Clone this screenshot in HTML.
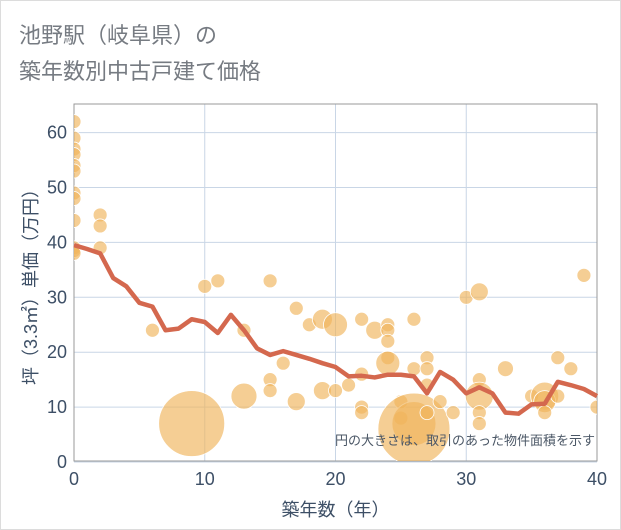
<!DOCTYPE html>
<html><head><meta charset="utf-8"><style>
body{margin:0;background:#fff}
#wrap{position:relative;width:619px;height:528px;border:1px solid #dcdcdc;overflow:hidden;font-family:"Liberation Sans","Noto Sans CJK JP",sans-serif}
</style></head><body>
<div id="wrap">
<svg id="chart" width="619" height="528">
<text x="18" y="42" font-size="22" fill="#767b82" font-family="Liberation Sans, Noto Sans CJK JP, sans-serif">池野駅（岐阜県）の</text>
<text x="18" y="78" font-size="22" fill="#767b82" font-family="Liberation Sans, Noto Sans CJK JP, sans-serif">築年数別中古戸建て価格</text>
</svg>
</div>
<script>
const lineX=[0,1,2,3,4,5,6,7,8,9,10,11,12,13,14,15,16,17,18,19,20,21,22,23,24,25,26,27,28,29,30,31,32,33,34,35,36,37,38,39,40];
const lineY=[39.5,38.8,38,33.5,32,29,28.3,24,24.3,26,25.5,23.5,26.8,24,20.7,19.5,20.2,19.5,18.8,18,17.3,15.6,15.7,15.4,15.9,15.9,15.6,12.5,16.4,15,12.5,13.6,12.5,9,8.8,10.5,10.6,14.6,14,13.3,12];
const bubX=[0,0,0,0,0,0,0,0,0,0,0,0,2,2,2,6,9,10,11,13,13,15,15,15,16,17,17,18,19,19,20,20,21,22,22,22,22,23,24,24,24,24,24,25,25,26,26,26,26,27,27,27,27,28,29,30,31,31,31,31,31,33,35,36,36,36,37,37,38,39,40];
const bubY=[62,59,57,56,54,53,49,48,44,39,38.5,38,45,43,39,24,7,32,33,24,12,33,15,13,18,28,11,25,26,13,25,13,14,26,16,10,9,24,25,24,22,19,18,11,8,26,17,7,6,19,17,14,9,11,9,30,31,15,12,9,7,17,12,12,11,9,19,12,17,34,10];
const bubR=[7,7,7,7,7,7,7,7,7,7,7,7,7,7,7,7,33,7,7,7,13,7,7,7,7,7,9,7,10,9,12,7,7,7,7,7,7,9,7,7,7,7,12,7,7,7,7,22,36,7,7,7,7,7,7,7,9,7,14,7,7,8,7,14,11,7,7,7,7,7,7];
const xTicks=[0,10,20,30,40];
const yTicks=[0,10,20,30,40,50,60];
const NS='http://www.w3.org/2000/svg';
const svg=document.getElementById('chart');
const L=73,R=596,T=103,B=460;
const sx=v=>L+(R-L)*v/40;
const sy=v=>461-v*5.49;
function el(t,a){const e=document.createElementNS(NS,t);for(const k in a)e.setAttribute(k,a[k]);svg.appendChild(e);return e;}
const clip=el('clipPath',{id:'pc'});
const cr=document.createElementNS(NS,'rect');cr.setAttribute('x',L);cr.setAttribute('y',T);cr.setAttribute('width',R-L);cr.setAttribute('height',B-T);clip.appendChild(cr);
xTicks.forEach(v=>{const g=el('line',{x1:sx(v),x2:sx(v),y1:T,y2:B,stroke:'#c9d6e6','stroke-width':1});


const t=el('text',{x:sx(v),y:484,'text-anchor':'middle','font-size':18,fill:'#3d4f66'});t.textContent=v;

});
yTicks.forEach(v=>{const g=el('line',{x1:L,x2:R,y1:sy(v),y2:sy(v),stroke:'#c9d6e6','stroke-width':1});


const t=el('text',{x:66,y:sy(v)+6,'text-anchor':'end','font-size':18,fill:'#3d4f66'});t.textContent=v;

});
const frame=el('rect',{x:L,y:T,width:R-L,height:B-T,fill:'none',stroke:'#999','stroke-width':1});


const bg=el('g',{'clip-path':'url(#pc)'});
bubX.forEach((x,i)=>{const c=document.createElementNS(NS,'circle');c.setAttribute('cx',sx(x));c.setAttribute('cy',sy(bubY[i]));c.setAttribute('r',bubR[i]);c.setAttribute('fill','rgba(240,180,90,0.65)');c.setAttribute('stroke','#fff');c.setAttribute('stroke-width','0.8');


bg.appendChild(c);});
const p=el('polyline',{points:lineX.map((x,i)=>sx(x)+','+sy(lineY[i])).join(' '),fill:'none',stroke:'#d4684e','stroke-width':4.5,'stroke-linejoin':'round'});


const note=el('text',{x:594,y:444,'text-anchor':'end','font-size':13,fill:'#4b5766'});note.textContent='円の大きさは、取引のあった物件面積を示す';


const xt=el('text',{x:sx(20),y:515,'text-anchor':'middle','font-size':18,fill:'#3d4f66'});xt.textContent='築年数（年）';


const yt=el('text',{x:0,y:0,'text-anchor':'middle','font-size':18,fill:'#3d4f66',transform:'translate(36,'+((T+B)/2)+') rotate(-90)'});yt.textContent='坪（3.3㎡）単価（万円）';


</script>
</body></html>
